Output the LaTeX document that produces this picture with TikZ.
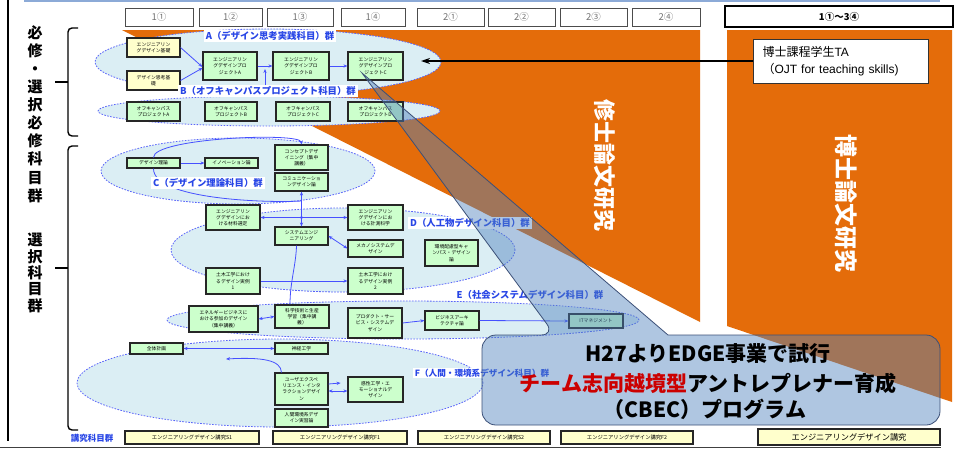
\documentclass[tikz,border=0pt]{standalone}
\usepackage{fontspec}
\setmainfont{Noto Sans CJK JP}
\newfontfamily\libsans{Liberation Sans}
\usetikzlibrary{arrows.meta,calc}
\definecolor{orng}{RGB}{228,108,10}
\definecolor{boxgreen}{RGB}{204,255,204}
\definecolor{boxyellow}{RGB}{255,255,204}
\definecolor{ellfill}{RGB}{219,238,244}
\definecolor{elldash}{RGB}{90,100,250}
\definecolor{arrblue}{RGB}{70,80,255}
\definecolor{lblblue}{RGB}{40,70,230}
\definecolor{callblue}{RGB}{79,129,189}
\definecolor{calledge}{RGB}{60,80,120}
\definecolor{topline}{RGB}{140,170,215}
\tikzset{
  ell/.style={fill=ellfill, draw=elldash, line width=0.8pt, dash pattern=on 1.6pt off 1.4pt},
  gbox/.style={draw=black!85, line width=1.1pt, fill=boxgreen, align=center, inner sep=0pt, font=\fontsize{4.8}{6.2}\selectfont},
  ybox/.style={gbox, fill=boxyellow},
  sz/.style 2 args={minimum width=#1pt, minimum height=#2pt},
  grp/.style={fill=white, text=lblblue, font=\bfseries\fontsize{9.4}{11}\selectfont, inner xsep=2pt, inner ysep=1pt},
  hdr/.style={draw=black!70, line width=1pt, fill=white, text=black!55, font=\fontsize{9.5}{11}\selectfont, minimum height=18pt, inner sep=0pt},
  barr/.style={draw=arrblue, line width=0.8pt, -{Stealth[length=4pt,width=3.2pt]}},
  bline/.style={draw=arrblue, line width=0.8pt},
  bdarr/.style={draw=arrblue, line width=0.8pt, {Stealth[length=4pt,width=3.2pt]}-{Stealth[length=4pt,width=3.2pt]}},
  vlabel/.style={font=\bfseries\fontsize{15}{18.1}\selectfont, align=center, inner sep=0pt},
  bracepath/.style={draw=black, line width=1.4pt, rounded corners=4pt},
  callout/.style={fill=callblue, fill opacity=0.45, draw=calledge, draw opacity=1, line width=0.8pt},
  calltext/.style={font=\bfseries\fontsize{21}{24}\selectfont, inner sep=0pt},
  orangetext/.style={text=white, rotate=-90, inner sep=0pt},
}
\begin{document}
\begin{tikzpicture}[x=1pt,y=-1pt]
\useasboundingbox (0,0) rectangle (959,450);
\fill[white] (0,0) rectangle (959,450);
% orange regions
\fill[orng] (122,30) -- (700,30) -- (700,322) -- cycle;
\fill[orng] (727,30) -- (952,30) -- (952,402) -- (727,326) -- cycle;
\node[orangetext, font=\bfseries\fontsize{22}{24}\selectfont] (ms) at (605,165) {修士論文研究};
\node[orangetext, font=\bfseries\fontsize{23}{25}\selectfont] (phd) at (846,203) {博士論文研究};
% header
\node[hdr, minimum width=68pt] (h11) at (159,17) {1①};
\node[hdr, minimum width=63pt] (h12) at (230.5,17) {1②};
\node[hdr, minimum width=66pt] (h13) at (300,17) {1③};
\node[hdr, minimum width=64pt] (h14) at (373,17) {1④};
\node[hdr, minimum width=67pt] (h21) at (450.5,17) {2①};
\node[hdr, minimum width=67pt] (h22) at (521.5,17) {2②};
\node[hdr, minimum width=67pt] (h23) at (593.5,17) {2③};
\node[hdr, minimum width=68pt] (h24) at (666,17) {2④};
\node[hdr, draw=black, line width=2pt, text=black, font=\bfseries\fontsize{9.5}{11}\selectfont, minimum width=228pt, minimum height=21pt] (hall) at (839,16.5) {1①～3④};
% ellipses
\path[ell] (268,62) ellipse [x radius=173pt, y radius=33pt];
\path[ell] (269,111) ellipse [x radius=171pt, y radius=15pt];
\path[ell] (238,171) ellipse [x radius=137pt, y radius=33pt];
\path[ell] (343,250) ellipse [x radius=172pt, y radius=42pt];
\path[ell] (403,320) ellipse [x radius=236pt, y radius=19pt];
\path[ell] (280,383) ellipse [x radius=203pt, y radius=44pt];
% boxes A
\node[ybox, sz={53}{19}] (base1) at (153.5,47.5) {エンジニアリン\\グデザイン基礎};
\node[ybox, sz={53}{19}] (base2) at (153.5,80.5) {デザイン思考基\\礎};
\node[gbox, sz={54}{28}] (projA) at (230,66) {エンジニアリン\\グデザインプロ\\ジェクトA};
\node[gbox, sz={56}{28}] (projB) at (301,66) {エンジニアリン\\グデザインプロ\\ジェクトB};
\node[gbox, sz={55}{28}] (projC) at (375.5,66) {エンジニアリン\\グデザインプロ\\ジェクトC};
% boxes B
\node[gbox, sz={53}{19}] (offA) at (153.5,111.5) {オフキャンパス\\プロジェクトA};
\node[gbox, sz={52}{19}] (offB) at (231,111.5) {オフキャンパス\\プロジェクトB};
\node[gbox, sz={54}{19}] (offC) at (303,111.5) {オフキャンパス\\プロジェクトC};
\node[gbox, sz={55}{19}] (offD) at (375.5,111.5) {オフキャンパス\\プロジェクトD};
% boxes C
\node[gbox, sz={53}{10}] (riron) at (153.5,163) {デザイン理論};
\node[gbox, sz={53}{10}] (innov) at (231.5,163) {イノベーション論};
\node[gbox, sz={53}{25}] (concept) at (301.5,157.5) {コンセプトデザ\\イニング（集中\\講義）};
\node[gbox, sz={53}{18}] (comm) at (301.5,182) {コミュニケーショ\\ンデザイン論};
% boxes D
\node[gbox, sz={54}{25}] (zairyo) at (233,217.5) {エンジニアリン\\グデザインにお\\ける材料選定};
\node[gbox, sz={55}{25}] (keisoku) at (375.5,217.5) {エンジニアリン\\グデザインにお\\ける計測科学};
\node[gbox, sz={53}{18}] (sys) at (301.5,236) {システムエンジ\\ニアリング};
\node[gbox, sz={55}{17}] (mecha) at (375.5,248.5) {メカノシステムデ\\ザイン};
\node[gbox, sz={53}{26}] (kankyo) at (451.5,253) {環境配慮型キャ\\ンパス・デザイン\\論};
\node[gbox, sz={54}{26}] (doboku1) at (233,281) {土木工学におけ\\るデザイン実例\\1};
\node[gbox, sz={55}{26}] (doboku2) at (375.5,281) {土木工学におけ\\るデザイン実例\\2};
% boxes E
\node[gbox, sz={69}{26}] (energy) at (223.5,319) {エネルギービジネスに\\おける参加のデザイン\\（集中講義）};
\node[gbox, sz={54}{23}] (kagaku) at (302,316.5) {科学技術と生産\\学習（集中講\\義）};
\node[gbox, sz={54}{30}] (product) at (375,323) {プロダクト・サー\\ビス・システムデ\\ザイン};
\node[gbox, sz={54}{19}] (biz) at (452,320.5) {ビジネスアーキ\\テクチャ論};
\node[gbox, sz={54}{14}] (itm) at (596,321) {ITマネジメント};
% boxes F
\node[gbox, sz={53}{11}] (zentai) at (156.5,348.5) {全体計画};
\node[gbox, sz={53}{11}] (shinkei) at (301.5,348.5) {神経工学};
\node[gbox, sz={53}{32}] (ux) at (301.5,389) {ユーザエクスペ\\リエンス・インタ\\ラクションデザイ\\ン};
\node[gbox, sz={55}{25}] (kansei) at (375.5,389.5) {感性工学・エ\\モーショナルデ\\ザイン};
\node[gbox, sz={53}{18}] (ningen) at (301.5,418) {人間環境系デザ\\イン実習論};
% bottom row
\node[ybox, sz={134}{13}, font=\fontsize{5.3}{6}\selectfont] (ks1) at (192,437.5) {エンジニアリングデザイン講究S1};
\node[ybox, sz={134}{13}, font=\fontsize{5.3}{6}\selectfont] (kf1) at (340,437.5) {エンジニアリングデザイン講究F1};
\node[ybox, sz={132}{13}, font=\fontsize{5.3}{6}\selectfont] (ks2) at (484,437.5) {エンジニアリングデザイン講究S2};
\node[ybox, sz={132}{13}, font=\fontsize{5.3}{6}\selectfont] (kf2) at (627,437.5) {エンジニアリングデザイン講究F2};
\node[ybox, sz={182}{16}, line width=1.5pt, font=\fontsize{8.2}{9}\selectfont] (kall) at (849,437) {エンジニアリングデザイン講究};
\node[text=lblblue, font=\bfseries\fontsize{8.5}{10}\selectfont, inner sep=0pt] (kk) at (92,438) {講究科目群};
% group labels
\node[grp] (lA) at (270,36) {A（デザイン思考実践科目）群};
\node[grp] (lB) at (268,91) {B（オフキャンパスプロジェクト科目）群};
% arrows A/B
\draw[barr] (base1.east) -- ($(projA.west)+(0,1)$);
\draw[barr] (base2.east) -- ($(projA.west)+(0,2)$);
\draw[barr] (projA.east) -- (projB.west);
\draw[barr] (projB.east) -- (projC.west);
\coordinate (ab) at (265,69);
\draw[barr] (lB.north -| ab) -- (ab);
% arrows C/D
\draw[barr] (riron.north) .. controls (153,138) and (300,132) .. (concept.north);
\coordinate (cj) at (301.5,201);
\draw[bline] (riron.south) .. controls (153,200) and (270,203) .. (cj);
\draw[barr] (riron.east) -- (innov.west);
\draw[bdarr] (comm.south) -- (sys.north);
\draw[bdarr] (zairyo.east) -- (keisoku.west);
\fill[arrblue] (301.5,217.5) circle (1.6pt);
\draw[bdarr] (sys.east) -- (mecha.west);
\draw[barr] (doboku1.east) -- (doboku2.west);
\draw[bline] ($(sys.south)+(-5,0)$) .. controls (296,265) and (290,282) .. ($(kagaku.north)+(-12,0)$);
% arrows E
\draw[bdarr] (energy.east) -- (kagaku.west);
\draw[barr] (product.east) -- (biz.west);
\draw[barr] (biz.east) -- (itm.west);
% arrows F
\draw[bdarr] (zentai.east) -- (shinkei.west);
\coordinate (fc) at (226,359);
\draw[barr] ($(ux.north)+(-20,0)$) .. controls (281,360) and (262,357) .. (fc);
\draw[barr] ($(ux.east)+(0,-5)$) -- ($(ux.east)+(12,-6)$);
\draw[bdarr] ($(ux.east)+(0,2)$) -- ($(kansei.west)+(0,1.5)$);
% lower group labels
\node[grp] (lC) at (208,183) {C（デザイン理論科目）群};
\node[grp] (lD) at (470,223) {D（人工物デザイン科目）群};
\node[grp] (lE) at (530,295) {E（社会システムデザイン科目）群};
\node[grp, font=\bfseries\fontsize{8.6}{10}\selectfont] (lF) at (482,373) {F（人間・環境系デザイン科目）群};
% callout
\path[callout] (668,335) [rounded corners=14pt] -- (940,335) -- (940,425) -- (482,425) -- (482,335) -- (555,335) [sharp corners] -- (362,73) -- cycle;
\node[calltext] (c1) at (708,354) {H27よりEDGE事業で試行};
\node[calltext] (c2) at (708,383) {\textcolor{red!80!black}{チーム志向越境型}アントレプレナー育成};
\node[calltext] (c3) at (705,409) {（CBEC）プログラム};
% TA
\node[draw=black!80, fill=white, line width=0.8pt, align=left, text width=157pt, inner xsep=9pt, minimum height=44pt, font=\fontsize{12}{17}\selectfont] (ta) at (841,61) {博士課程学生{\libsans TA}\\（{\libsans OJT for teaching skills)}};
\coordinate (taend) at (421,61);
\draw[black, line width=1.2pt, -{Stealth[length=9pt,width=6pt]}] (ta.west) -- (taend);
% left labels and braces
\node[vlabel] (v1) at (35,114) {必\\修\\・\\選\\択\\必\\修\\科\\目\\群};
\node[vlabel, font=\bfseries\fontsize{15}{16.3}\selectfont] (v2) at (35,273) {選\\択\\科\\目\\群};
\draw[bracepath] (78,28) -- (68,28) -- (68,136) -- (78,136);
\draw[black, line width=1.4pt] (55,82) -- (68,82);
\draw[bracepath] (78,146) -- (68,146) -- (68,430) -- (78,430);
\draw[black, line width=1.4pt] (55,268) -- (68,268);
% frame lines
\draw[topline, line width=1.5pt] (24,1) -- (940,1);
\draw[black, line width=2.5pt] (8,0) -- (8,441);
\draw[black!75, line width=1.5pt] (0,447.5) -- (941,447.5);
\end{tikzpicture}
\end{document}
